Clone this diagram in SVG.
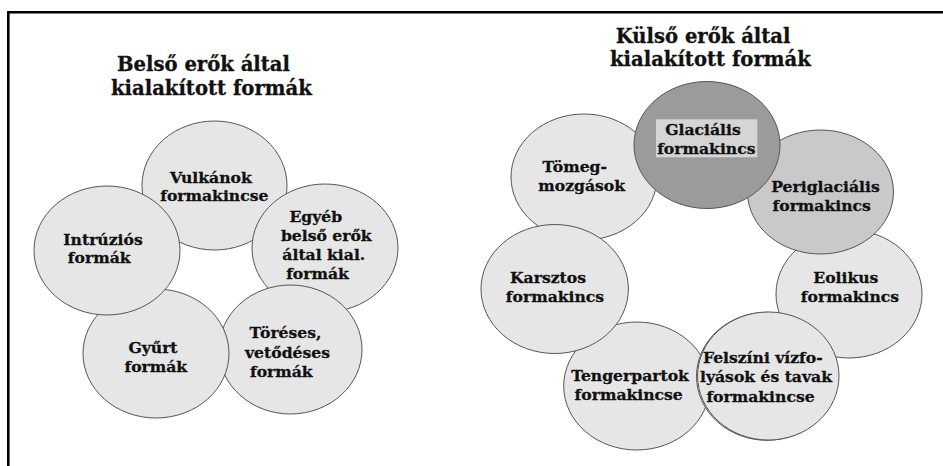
<svg xmlns="http://www.w3.org/2000/svg" width="943" height="466" viewBox="0 0 943 466">
  <style>
    .bubble { fill: #e6e6e6; stroke: #555555; stroke-width: 1; }
    .peri { fill: #c9c9c9; }
    .glac { fill: #9b9b9b; }
    .lbl { font-family: "DejaVu Serif", "Liberation Serif", serif; font-weight: bold; font-size: 15.6px; fill: #111; stroke: #111; stroke-width: 0.3; text-anchor: middle; }
    .ttl { font-family: "DejaVu Serif", "Liberation Serif", serif; font-weight: bold; font-size: 19.6px; fill: #111; stroke: #111; stroke-width: 0.3; }
  </style>

  <rect width="943" height="466" fill="#ffffff"/>

  <!-- page frame: top and left rules only -->
  <g id="frame" stroke="#000" stroke-width="2.6" fill="none">
    <line x1="8.3" y1="12.3" x2="943" y2="12.3"/>
    <line x1="8.3" y1="11" x2="8.3" y2="466"/>
  </g>

  <!-- no connectors in this figure: bubbles touch each other -->
  <g id="connectors"/>

  <!-- headings -->
  <g id="title-internal">
    <text class="ttl" x="117" y="71">Belső erők által</text>
    <text class="ttl" x="111" y="95">kialakított formák</text>
  </g>
  <g id="title-external">
    <text class="ttl" x="615.7" y="43">Külső erők által</text>
    <text class="ttl" x="610" y="66">kialakított formák</text>
  </g>

  <!-- internal forces ring -->
  <g id="vulkanok">
    <ellipse class="bubble" cx="214.5" cy="185.5" rx="72.5" ry="64.5"/>
    <text class="lbl" x="210.8" y="182.7">Vulkánok</text>
    <text class="lbl" x="214.3" y="200.5">formakincse</text>
  </g>
  <g id="egyeb">
    <ellipse class="bubble" cx="325" cy="248" rx="73" ry="64"/>
    <text class="lbl" x="315.8" y="221.7">Egyéb</text>
    <text class="lbl" x="326.3" y="240.7">belső erők</text>
    <text class="lbl" x="323.8" y="260">által kial.</text>
    <text class="lbl" x="317.5" y="279">formák</text>
  </g>
  <g id="toreses">
    <ellipse class="bubble" cx="290.5" cy="349.5" rx="71.5" ry="64.5"/>
    <text class="lbl" x="285.5" y="338.3">Töréses,</text>
    <text class="lbl" x="287.5" y="358">vetődéses</text>
    <text class="lbl" x="281.3" y="376.7">formák</text>
  </g>
  <g id="gyurt">
    <ellipse class="bubble" cx="156" cy="353.5" rx="73" ry="64.5"/>
    <text class="lbl" x="153" y="353.3">Gyűrt</text>
    <text class="lbl" x="155.8" y="371.7">formák</text>
  </g>
  <g id="intruzios">
    <ellipse class="bubble" cx="107" cy="250.5" rx="73" ry="64.5"/>
    <text class="lbl" x="103" y="245">Intrúziós</text>
    <text class="lbl" x="99.2" y="263.3">formák</text>
  </g>

  <!-- external forces ring -->
  <g id="tomegmozgasok">
    <ellipse class="bubble" cx="584" cy="177" rx="73" ry="63"/>
    <text class="lbl" x="574.7" y="171.7">Tömeg-</text>
    <text class="lbl" x="581.7" y="190.7">mozgások</text>
  </g>
  <g id="tengerpartok">
    <ellipse class="bubble" cx="636.7" cy="386" rx="73" ry="64"/>
    <text class="lbl" x="630" y="381">Tengerpartok</text>
    <text class="lbl" x="628.7" y="400">formakincse</text>
  </g>
  <g id="karsztos">
    <ellipse class="bubble" cx="554.7" cy="289" rx="73.7" ry="64.5"/>
    <text class="lbl" x="548" y="282.7">Karsztos</text>
    <text class="lbl" x="555" y="301.7">formakincs</text>
  </g>
  <g id="eolikus">
    <ellipse class="bubble" cx="849" cy="294" rx="73" ry="64"/>
    <text class="lbl" x="845.8" y="282.7">Eolikus</text>
    <text class="lbl" x="850" y="301.7">formakincs</text>
  </g>
  <g id="felszini">
    <!-- slightly offset twin outline -->
    <ellipse class="bubble" cx="767" cy="376.3" rx="70.5" ry="64"/>
    <ellipse class="bubble" cx="768.3" cy="376" rx="70.7" ry="64"/>
    <text class="lbl" x="762.8" y="363.3">Felszíni vízfo-</text>
    <text class="lbl" x="766" y="381.5">lyások és tavak</text>
    <text class="lbl" x="760.5" y="401.5">formakincse</text>
  </g>
  <g id="periglacialis">
    <ellipse class="bubble peri" cx="820.5" cy="192" rx="73" ry="62"/>
    <text class="lbl" x="825.5" y="191.7">Periglaciális</text>
    <text class="lbl" x="821.7" y="211">formakincs</text>
  </g>
  <g id="glacialis">
    <ellipse class="bubble glac" cx="707" cy="145" rx="73" ry="63.5"/>
    <rect x="656" y="119.3" width="101.3" height="38" fill="#d5d5d5"/>
    <text class="lbl" x="703" y="135">Glaciális</text>
    <text class="lbl" x="706.3" y="154">formakincs</text>
  </g>
</svg>
